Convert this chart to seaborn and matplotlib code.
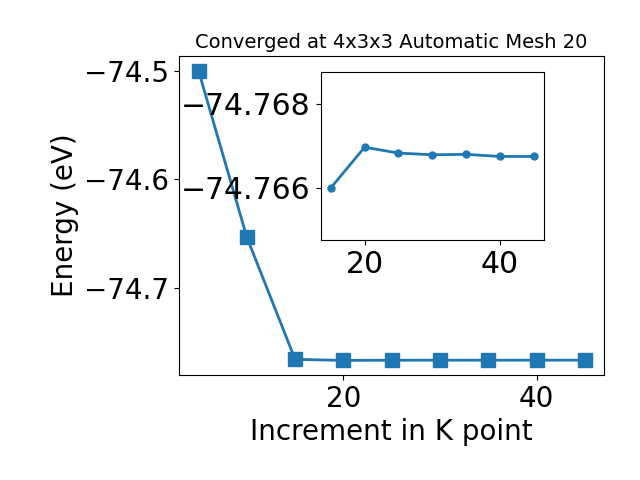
import matplotlib
matplotlib.use('Agg')
import matplotlib.pyplot as plt
import pandas as pd
import seaborn as sns

# k-point increments and converged total energies (eV)
kpoints = [5, 10, 15, 20, 25, 30, 35, 40, 45]
energies = [-74.5000, -74.6534, -74.7660, -74.76697, -74.76683,
            -74.76679, -74.76680, -74.76675, -74.76675]
main_yticks = [-74.5, -74.6, -74.7]
main_xticks = [20, 40]
inset_yticks = [-74.768, -74.766]
inset_xticks = [20, 40]

df = pd.DataFrame({'kpoint': kpoints, 'energy': energies})
zoom_df = df[df.kpoint >= 15]
blue = '#1f77b4'

fig = plt.figure(figsize=(6.4, 4.8), dpi=100)
ax = fig.add_axes([0.28, 0.219, 0.664, 0.664])
sns.lineplot(data=df, x='kpoint', y='energy', ax=ax, marker='s',
             markersize=10, linewidth=2, color=blue,
             markeredgecolor=blue, markeredgewidth=1)
ax.set_xlabel('Increment in K point', fontsize=20)
ax.set_ylabel('Energy (eV)', fontsize=20)
ax.set_title('Converged at 4x3x3 Automatic Mesh 20', fontsize=14)
ax.set_yticks(main_yticks)
ax.set_xticks(main_xticks)
ax.tick_params(labelsize=20)

# inset zoomed on the converged region
ins = fig.add_axes([0.501, 0.5, 0.349, 0.349])
sns.lineplot(data=zoom_df, x='kpoint', y='energy', ax=ins, marker='o',
             markersize=5, linewidth=2, color=blue,
             markeredgecolor=blue, markeredgewidth=1)
ins.set_ylim(-74.76476, -74.76875)
ins.set_yticks(inset_yticks)
ins.set_xticks(inset_xticks)
ins.ticklabel_format(useOffset=False)
ins.set_xlabel('')
ins.set_ylabel('')
ins.tick_params(labelsize=21.5)

plt.savefig('out.png', dpi=100)
